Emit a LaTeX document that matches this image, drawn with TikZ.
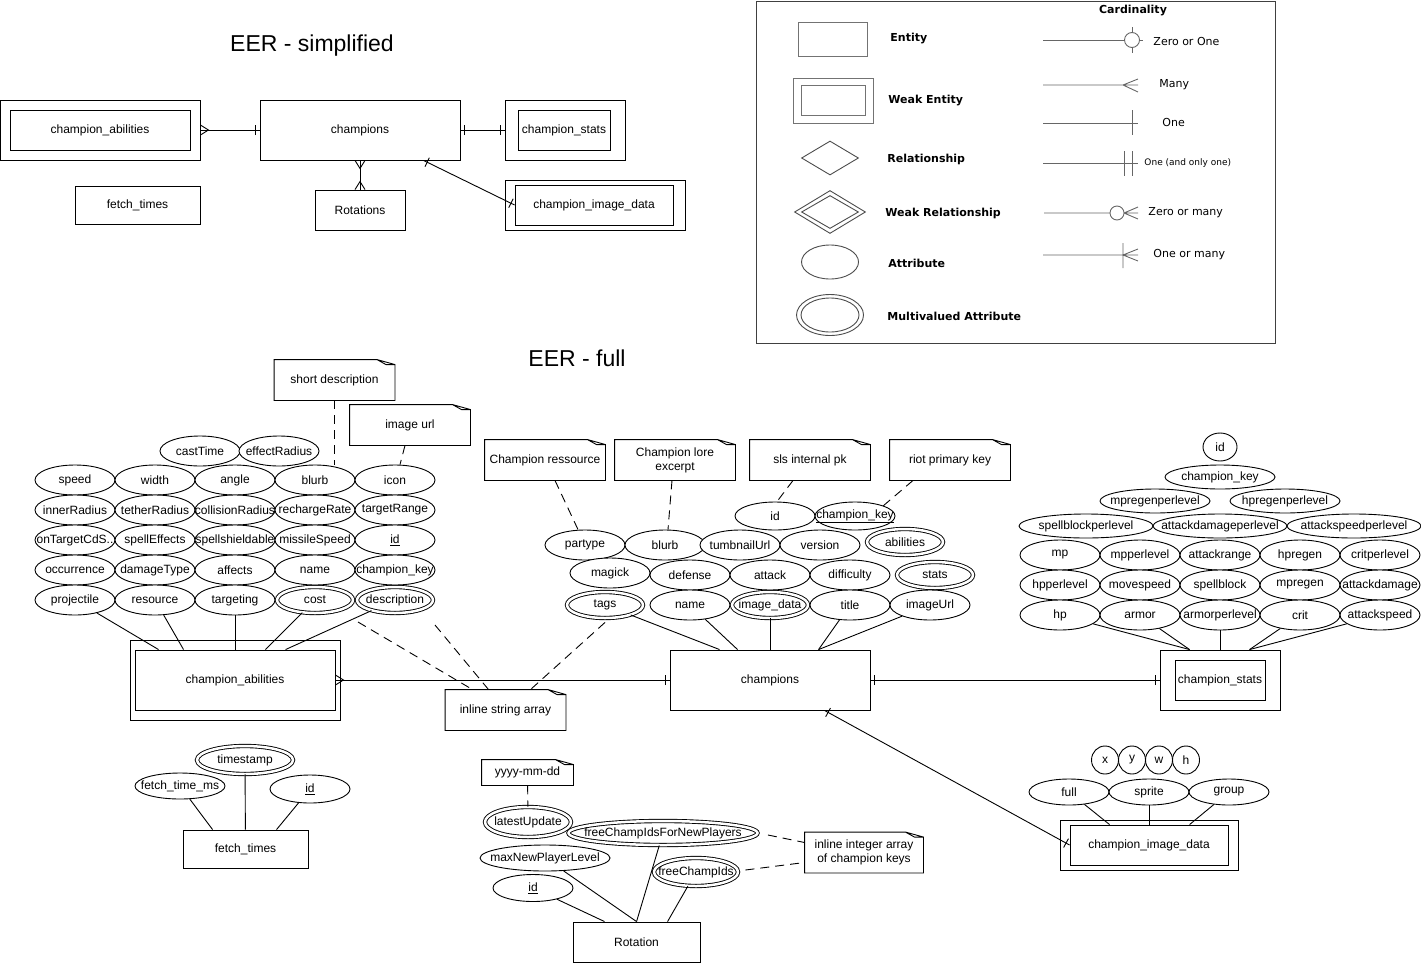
\documentclass[tikz,border=0pt]{standalone}
\usepackage{fontspec}
\setmainfont{Liberation Sans}
\newfontfamily\legendfont{DejaVu Sans}
\usetikzlibrary{shapes.geometric,decorations.markings}

\begin{document}
\begin{tikzpicture}[x=1pt,y=-1pt,line width=0.9pt,
  font=\fontsize{12}{14}\selectfont,
  ent/.style n args={2}{draw,minimum width=#1pt,minimum height=#2pt,inner sep=0pt},
  attr/.style={ellipse,draw,fill=white,minimum width=80pt,minimum height=30pt,inner sep=0pt,
    execute at begin node={\hbox to 0pt\bgroup\hss},execute at end node={\hss\egroup}},
  mattr/.style={attr,double,double distance=2.5pt,minimum width=76pt,minimum height=26pt},
  note/.style={minimum width=120pt,minimum height=40pt,inner sep=0pt,align=center},
  notelink/.style={dash pattern=on 9pt off 6pt},
  lgd/.style={font=\legendfont\fontsize{11}{13}\selectfont,anchor=west,inner sep=0pt},
  onestart/.style={postaction={decorate,decoration={markings,mark=at position 0 with {\draw (4pt,-5pt) -- (4pt,5pt);}}}},
  oneend/.style={postaction={decorate,decoration={markings,mark=at position 1 with {\draw (-4pt,-5pt) -- (-4pt,5pt);}}}},
  manystart/.style={postaction={decorate,decoration={markings,mark=at position 0 with {\draw (0pt,-5pt) -- (8pt,0pt) -- (0pt,5pt);}}}},
  manyend/.style={postaction={decorate,decoration={markings,mark=at position 1 with {\draw (0pt,-5pt) -- (-8pt,0pt) -- (0pt,5pt);}}}}]
\useasboundingbox (0,0) rectangle (1421,964);

% titles
\node (tsimple) at (312,46) {\fontsize{23}{26}\selectfont EER - simplified};
\node (tfull) at (577,358) {\fontsize{23}{26}\selectfont EER - full};

% simplified
\node[ent={200}{60}] (sab) at (100,130) {};
\node[ent={180}{40}] (sabi) at (100,130) {champion\_abilities};
\node[ent={200}{60}] (sch) at (360,130) {champions};
\node[ent={120}{60}] (sst) at (565,130) {};
\node[ent={92}{40}] (ssti) at (564,130) {champion\_stats};
\node[ent={125}{38}] (sft) at (137.5,205) {fetch\_times};
\node[ent={90}{40}] (srot) at (360,210) {Rotations};
\node[ent={180}{50}] (sim) at (595,205) {};
\node[ent={158}{40}] (simi) at (594,205) {champion\_image\_data};
\draw[manystart,oneend] (sab) -- (sch);
\draw[onestart,oneend] (sch) -- (sst);
\draw[manystart,manyend] (sch) -- (srot);
\draw[onestart,oneend] ([xshift=164pt]sch.south west) -- (simi.west);

% legend
\node[draw=black!75,minimum width=519pt,minimum height=342pt,anchor=north west,inner sep=0pt] (legend) at (755.5,0.5) {};
\node[draw=black!55,minimum width=69pt,minimum height=34pt] (lent) at (833,39) {};
\node[draw=black!55,minimum width=80pt,minimum height=45pt] (lweak) at (833,100.5) {};
\node[draw=black!55,minimum width=64pt,minimum height=30pt] (lweaki) at (833,100.5) {};
\node[diamond,draw=black!70,minimum width=57pt,minimum height=34pt,inner sep=0pt] (lrel) at (830,158) {};
\node[diamond,draw=black!70,minimum width=71pt,minimum height=43pt,inner sep=0pt] (lwrel) at (830,212) {};
\node[diamond,draw=black!70,minimum width=57pt,minimum height=33pt,inner sep=0pt] (lwreli) at (830,212) {};
\node[ellipse,draw=black!70,minimum width=57pt,minimum height=34pt,inner sep=0pt] (latt) at (830,262) {};
\node[ellipse,draw=black!70,minimum width=67pt,minimum height=41pt,inner sep=0pt] (lmatt) at (830,315) {};
\node[ellipse,draw=black!70,minimum width=58pt,minimum height=34pt,inner sep=0pt] (lmatti) at (830,315) {};
\node[lgd] (lentt) at (890,39) {\bfseries Entity};
\node[lgd] (lweakt) at (888,101) {\bfseries Weak Entity};
\node[lgd] (lrelt) at (887,159) {\bfseries Relationship};
\node[lgd] (lwrelt) at (885,213) {\bfseries Weak Relationship};
\node[lgd] (lattt) at (888,263) {\bfseries Attribute};
\node[lgd] (lmattt) at (887,316) {\bfseries Multivalued Attribute};
\node[lgd,anchor=center] (lcard) at (1133,11) {\bfseries Cardinality};
\node[lgd] (lzo) at (1153,41) {Zero or One};
\node[lgd] (lmany) at (1159,85) {Many};
\node[lgd] (lone) at (1162,122) {One};
\node[lgd,font=\legendfont\fontsize{9}{11}\selectfont] (lonly) at (1144,163) {One (and only one)};
\node[lgd] (lzm) at (1148,213) {Zero or many};
\node[lgd] (lom) at (1153,255) {One or many};
\draw[black!60] (1043,40) -- (1143,40) (1132,27) -- (1132,53);
\draw[black!60,fill=white] (1132,40) circle (7.5);
\draw[black!60] (1043,85) -- (1138,85) (1138,79) -- (1123,85) -- (1138,92);
\draw[black!60] (1043,123) -- (1138,123) (1132,110) -- (1132,135);
\draw[black!60] (1043,163) -- (1138,163) (1124,151) -- (1124,176) (1132,151) -- (1132,176);
\draw[black!60] (1044,213) -- (1138,213) (1138,207) -- (1124,213) -- (1138,219);
\draw[black!60,fill=white] (1117,213) circle (7);
\draw[black!60] (1043,255) -- (1138,255) (1123,243) -- (1123,268) (1138,249) -- (1123,255) -- (1138,261);

% notes
\node[note] (nsd) at (334.5,380) {short description};
\node[note] (niu) at (410,425) {image url};
\node[note] (ncr) at (545,460) {Champion ressource};
\node[note] (nle) at (675,460) {Champion lore\\excerpt};
\node[note] (nsp) at (810,460) {sls internal pk};
\node[note] (nrk) at (950,460) {riot primary key};
\node[note] (nisa) at (505.5,710) {inline string array};
\node[note,minimum width=91pt,minimum height=25pt] (nym) at (527.5,772.5) {yyyy-mm-dd};
\node[note,minimum width=118pt,minimum height=40pt] (nia) at (864,852.5) {inline integer array\\of champion keys};
\foreach \n in {nsd,niu,ncr,nle,nsp,nrk,nisa,nym,nia}
  \draw (\n.north west) -- ([xshift=-18pt]\n.north east) -- ([yshift=-5pt]\n.north east) -- (\n.south east) -- (\n.south west) -- cycle
    ([xshift=-18pt]\n.north east) -- ([xshift=-9pt,yshift=-5pt]\n.north east) -- ([yshift=-5pt]\n.north east);

% champion_abilities
\node[ent={210}{80}] (ca) at (235,680) {};
\node[ent={200}{60}] (cai) at (235,680) {champion\_abilities};
\node[attr] (acast) at (200,451) {castTime};
\node[attr] (aeffect) at (279,451) {effectRadius};
\node[attr] (aspeed) at (75,480) {speed};
\node[attr] (awidth) at (155,480) {width};
\node[attr] (aangle) at (235,480) {angle};
\node[attr] (ablurb) at (315,480) {blurb};
\node[attr] (aicon) at (395,480) {icon};
\node[attr] (ainner) at (75,510) {innerRadius};
\node[attr] (atether) at (155,510) {tetherRadius};
\node[attr] (acoll) at (235,510) {collisionRadius};
\node[attr] (arecharge) at (315,510) {rechargeRate};
\node[attr] (atrange) at (395,510) {targetRange};
\node[attr] (aontarget) at (75,540) {onTargetCdS..};
\node[attr] (aspell) at (155,540) {spellEffects};
\node[attr] (ashield) at (235,540) {spellshieldable};
\node[attr] (amissile) at (315,540) {missileSpeed};
\node[attr] (aid) at (395,540) {\underline{id}};
\node[attr] (aocc) at (75,570) {occurrence};
\node[attr] (adamage) at (155,570) {damageType};
\node[attr] (aaffects) at (235,570) {affects};
\node[attr] (aname) at (315,570) {name};
\node[attr] (akey) at (395,570) {champion\_key};
\node[attr] (aproj) at (75,600) {projectile};
\node[attr] (ares) at (155,600) {resource};
\node[attr] (atarget) at (235,600) {targeting};
\node[mattr] (acost) at (315,600) {cost};
\node[mattr] (adesc) at (395,600) {description};
\draw (aproj) -- ([xshift=24pt]cai.north west);
\draw (ares) -- ([xshift=49pt]cai.north west);
\draw (atarget) -- (cai);
\draw (acost) -- ([xshift=131pt]cai.north west);
\draw (adesc) -- ([xshift=151pt]cai.north west);
\draw[notelink] (nsd.south) -- (nsd.south |- ablurb.north);
\draw[notelink] ([xshift=-5pt]niu.south) -- ([xshift=5pt]aicon.north);
\draw[notelink] ([shift={(-37,22)}]adesc.center) -- ([xshift=-33pt]nisa.north);
\draw[notelink] ([shift={(40,25)}]adesc.center) -- ([xshift=-17pt]nisa.north);

% champions
\node[ent={200}{60}] (ch) at (770,680) {champions};
\node[attr,minimum height=28pt] (cid) at (775,516) {id};
\node[attr,minimum height=28pt] (ckey) at (855,516) {\underline{champion\_key}};
\node[attr] (cpartype) at (585,545) {partype};
\node[attr] (cblurb) at (665,545) {blurb};
\node[attr] (cthumb) at (740,545) {tumbnailUrl};
\node[attr] (cversion) at (820,545) {version};
\node[mattr] (cabil) at (905,542) {abilities};
\node[attr] (cmagick) at (610,573) {magick};
\node[attr] (cdefense) at (690,575) {defense};
\node[attr] (cattack) at (770,575) {attack};
\node[attr] (cdiff) at (850,575) {difficulty};
\node[mattr] (cstats) at (935,575) {stats};
\node[mattr] (ctags) at (605,605) {tags};
\node[attr] (cname) at (690,605) {name};
\node[mattr] (cimage) at (770,605) {image\_data};
\node[attr] (ctitle) at (850,605) {title};
\node[attr] (curl) at (930,605) {imageUrl};
\draw (ctags) -- ([xshift=50pt]ch.north west);
\draw (cname) -- ([xshift=68pt]ch.north west);
\draw (cimage) -- (ch);
\draw (ctitle) -- ([xshift=149pt]ch.north west);
\draw (curl) -- ([xshift=149pt]ch.north west);
\draw[notelink] ([xshift=10pt]ncr.south) -- ([xshift=-7pt]cpartype.north);
\draw[notelink] ([xshift=-3pt]nle.south) -- ([xshift=3pt]cblurb.north);
\draw[notelink] ([xshift=-17pt]nsp.south) -- ([xshift=2pt]cid.north);
\draw[notelink] ([xshift=-37pt]nrk.south) -- ([shift={(28,-10)}]ckey.center);
\draw[notelink] ([shift={(0,4)}]ctags.south) -- ([xshift=25pt]nisa.north);

% champion_stats
\node[ent={120}{60}] (st) at (1220,680) {};
\node[ent={90}{40}] (sti) at (1220,680) {champion\_stats};
\node[attr,minimum width=34pt,minimum height=28pt] (pid) at (1220,447) {id};
\node[attr,minimum width=110pt,minimum height=24pt] (pkey) at (1220,477) {champion\_key};
\node[attr,minimum width=110pt,minimum height=24pt] (pmpregl) at (1155,501) {mpregenperlevel};
\node[attr,minimum width=110pt,minimum height=24pt] (phpregl) at (1285,501) {hpregenperlevel};
\node[attr,minimum width=134pt,minimum height=24pt] (pspbl) at (1086,526) {spellblockperlevel};
\node[attr,minimum width=134pt,minimum height=24pt] (padl) at (1220,526) {attackdamageperlevel};
\node[attr,minimum width=134pt,minimum height=24pt] (pasl) at (1354,526) {attackspeedperlevel};
\node[attr] (pmp) at (1060,555) {mp};
\node[attr] (pmpl) at (1140,555) {mpperlevel};
\node[attr] (prange) at (1220,555) {attackrange};
\node[attr] (phpreg) at (1300,555) {hpregen};
\node[attr] (pcritl) at (1380,555) {critperlevel};
\node[attr] (phpl) at (1060,585) {hpperlevel};
\node[attr] (pmove) at (1140,585) {movespeed};
\node[attr] (pspb) at (1220,585) {spellblock};
\node[attr] (pmpreg) at (1300,585) {mpregen};
\node[attr] (pad) at (1380,585) {attackdamage};
\node[attr] (php) at (1060,615) {hp};
\node[attr] (parmor) at (1140,615) {armor};
\node[attr] (parml) at (1220,615) {armorperlevel};
\node[attr] (pcrit) at (1300,615) {crit};
\node[attr] (pas) at (1380,615) {attackspeed};
\draw (php) -- ([xshift=30pt]st.north west);
\draw (parmor) -- ([xshift=30pt]st.north west);
\draw (parml) -- (st);
\draw (pcrit) -- ([xshift=90pt]st.north west);
\draw (pas) -- ([xshift=90pt]st.north west);

% champion_image_data
\node[ent={178}{50}] (imd) at (1149,845) {};
\node[ent={158}{40}] (imdi) at (1149,845) {champion\_image\_data};
\node[attr,minimum width=27pt,minimum height=28pt] (ix) at (1105,760) {x};
\node[attr,minimum width=27pt,minimum height=28pt] (iy) at (1132,760) {y};
\node[attr,minimum width=27pt,minimum height=28pt] (iw) at (1159,760) {w};
\node[attr,minimum width=27pt,minimum height=28pt] (ih) at (1186,760) {h};
\node[attr,minimum height=26pt] (ifull) at (1069,792) {full};
\node[attr,minimum height=26pt] (isprite) at (1149,792) {sprite};
\node[attr,minimum height=26pt] (igroup) at (1229,792) {group};
\draw (ifull) -- ([xshift=40pt]imdi.north west);
\draw (isprite) -- (imdi);
\draw (igroup) -- ([xshift=120pt]imdi.north west);

% fetch_times
\node[ent={125}{38}] (ft) at (245.5,849) {fetch\_times};
\node[mattr,minimum width=96pt,minimum height=28pt] (fstamp) at (245,760) {timestamp};
\node[attr,minimum width=90pt,minimum height=26pt] (fms) at (180,786) {fetch\_time\_ms};
\node[attr,minimum height=28pt] (fid) at (310,789) {\underline{id}};
\draw (fms) -- ([xshift=30pt]ft.north west);
\draw (fstamp) -- (ft);
\draw (fid) -- ([xshift=94pt]ft.north west);

% Rotation
\node[ent={127}{40}] (rot) at (636.5,942) {Rotation};
\node[mattr,minimum width=86pt,minimum height=30pt] (rlatest) at (528,822) {latestUpdate};
\node[mattr,minimum width=189pt,minimum height=24pt] (rfcnp) at (663,833) {freeChampIdsForNewPlayers};
\node[attr,minimum width=130pt,minimum height=26pt] (rmax) at (545,858) {maxNewPlayerLevel};
\node[attr,minimum width=80pt,minimum height=27pt] (rid) at (533,888) {\underline{id}};
\node[mattr,minimum width=84pt,minimum height=28pt] (rfci) at (696,872) {freeChampIds};
\draw (rid) -- ([xshift=32pt]rot.north west);
\draw (rmax) -- ([xshift=64pt]rot.north west);
\draw (rfcnp) -- ([xshift=64pt]rot.north west);
\draw (rfci) -- ([xshift=95pt]rot.north west);
\draw[notelink] (nym) -- (rlatest);
\draw[notelink] ([shift={(10,2)}]rfcnp.east) -- ([shift={(0,-10)}]nia.west);
\draw[notelink] ([shift={(7,-2)}]rfci.east) -- ([shift={(0,10)}]nia.west);

% entity links
\draw[manystart,oneend] (cai) -- (ch);
\draw[onestart,oneend] (ch) -- (st);
\draw[onestart,oneend] ([xshift=155pt]ch.south west) -- (imdi.west);
\end{tikzpicture}
\end{document}
